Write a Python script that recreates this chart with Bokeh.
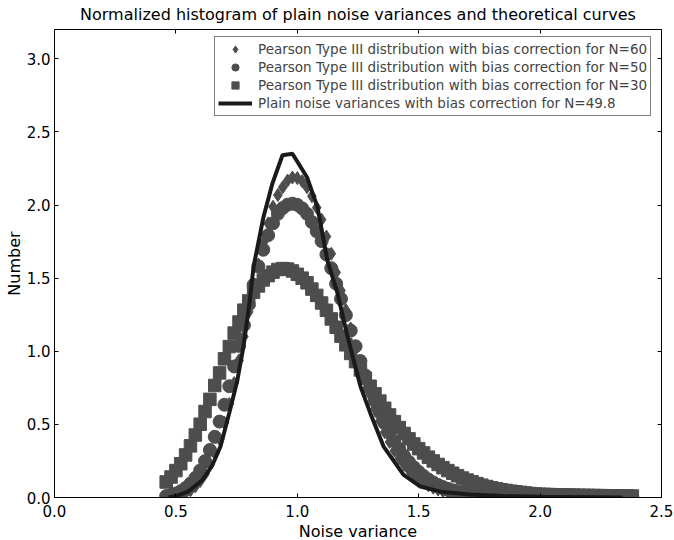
from bokeh.plotting import figure
from bokeh.models import (Range1d, LinearAxis, Legend, LegendItem, CustomJSTickFormatter,
                          NumeralTickFormatter, Title)
from bokeh.embed import file_html
from bokeh.resources import INLINE

x_pts = [0.46, 0.48, 0.50, 0.52, 0.54, 0.56, 0.58, 0.60, 0.62, 0.64, 0.66, 0.68, 0.70, 0.72,
         0.74, 0.76, 0.78, 0.80, 0.82, 0.84, 0.86, 0.88, 0.90, 0.92, 0.94, 0.96, 0.98,
         1.00, 1.02, 1.04, 1.06, 1.08, 1.10, 1.12, 1.14, 1.16, 1.18, 1.20, 1.22, 1.24, 1.26,
         1.28, 1.30, 1.32, 1.34, 1.36, 1.38, 1.40, 1.42, 1.44, 1.46, 1.48, 1.50, 1.52, 1.54,
         1.56, 1.58, 1.60, 1.62, 1.64, 1.66, 1.68, 1.70, 1.72, 1.74, 1.76, 1.78, 1.80, 1.82,
         1.84, 1.86, 1.88, 1.90, 1.92, 1.94, 1.96, 1.98,
         2.00, 2.02, 2.04, 2.06, 2.08, 2.10, 2.12, 2.14, 2.16, 2.18, 2.20, 2.22, 2.24, 2.26,
         2.28, 2.30, 2.32, 2.34, 2.36, 2.38]

n60 = [0.003, 0.006, 0.011, 0.019, 0.031, 0.049, 0.076, 0.112, 0.161, 0.224, 0.302, 0.398,
       0.511, 0.640, 0.783, 0.938, 1.101, 1.269, 1.435, 1.594, 1.742, 1.874, 1.988, 2.068,
       2.121, 2.167, 2.188,
       2.184, 2.163, 2.121, 2.06, 1.982, 1.900, 1.784, 1.667, 1.539, 1.414, 1.281, 1.156,
       1.029, 0.914, 0.803, 0.703, 0.608, 0.524, 0.447, 0.380, 0.320, 0.269, 0.224, 0.187,
       0.154, 0.126, 0.103, 0.083, 0.067, 0.054, 0.043, 0.035, 0.027, 0.021, 0.017, 0.013,
       0.010, 0.008, 0.006, 0.005, 0.004, 0.003, 0.002, 0.002, 0.001, 0.001, 0.001, 0.001,
       0.001, 0.001,
       0.001, 0.001, 0.001, 0.001, 0.001, 0.001, 0.001, 0.001, 0.001, 0.001, 0.001, 0.001,
       0.001, 0.001, 0.001, 0.001, 0.001, 0.001, 0.001, 0.001]

n50 = [0.010, 0.017, 0.027, 0.043, 0.065, 0.095, 0.134, 0.185, 0.249, 0.325, 0.415, 0.519,
       0.634, 0.761, 0.896, 1.037, 1.178, 1.319, 1.454, 1.580, 1.694, 1.793, 1.875, 1.940,
       1.979, 2.002, 2.009,
       2.001, 1.977, 1.940, 1.883, 1.820, 1.753, 1.662, 1.568, 1.462, 1.358, 1.247, 1.141,
       1.034, 0.933, 0.835, 0.745, 0.659, 0.581, 0.508, 0.443, 0.384, 0.331, 0.284, 0.243,
       0.207, 0.175, 0.147, 0.123, 0.103, 0.086, 0.071, 0.059, 0.049, 0.040, 0.033, 0.026,
       0.021, 0.017, 0.014, 0.011, 0.009, 0.007, 0.0055, 0.0044, 0.0035, 0.0027, 0.002,
       0.0016, 0.001, 0.001,
       0.001, 0.001, 0.001, 0.001, 0.001, 0.001, 0.001, 0.001, 0.001, 0.001, 0.001, 0.001,
       0.001, 0.001, 0.001, 0.001, 0.001, 0.001, 0.001, 0.001]

n30 = [0.106, 0.140, 0.184, 0.231, 0.291, 0.353, 0.427, 0.501, 0.588, 0.671, 0.766, 0.852,
       0.948, 1.032, 1.124, 1.200, 1.281, 1.344, 1.404, 1.447, 1.488, 1.517, 1.541, 1.559,
       1.565, 1.562, 1.549,
       1.526, 1.500, 1.468, 1.425, 1.382, 1.330, 1.280, 1.221, 1.164, 1.103, 1.044, 0.985,
       0.929, 0.872, 0.816, 0.761, 0.709, 0.659, 0.610, 0.564, 0.519, 0.478, 0.438, 0.401,
       0.366, 0.334, 0.305, 0.276, 0.250, 0.226, 0.204, 0.184, 0.166, 0.149, 0.133, 0.119,
       0.107, 0.095, 0.084, 0.075, 0.066, 0.060, 0.053, 0.048, 0.043, 0.039, 0.035, 0.031,
       0.027, 0.024,
       0.022, 0.021, 0.020, 0.019, 0.018, 0.017, 0.0165, 0.016, 0.015, 0.0145, 0.014, 0.0135,
       0.013, 0.0125, 0.012, 0.0115, 0.011, 0.011, 0.0105, 0.010]

line_x = [0.47, 0.50, 0.55, 0.61, 0.65, 0.684, 0.72, 0.753, 0.778, 0.803, 0.82, 0.861, 0.898,
          0.939, 0.98, 1.04, 1.083, 1.124, 1.165, 1.207, 1.26, 1.30, 1.355, 1.437, 1.507,
          1.59, 1.71, 1.85, 2.0, 2.34]
line_y = [0.0, 0.01, 0.04, 0.12, 0.22, 0.35, 0.58, 0.80, 1.03, 1.33, 1.58, 1.92, 2.15,
          2.34, 2.35, 2.19, 1.985, 1.62, 1.40, 1.10, 0.76, 0.58, 0.35, 0.157, 0.075,
          0.04, 0.02, 0.01, 0.005, 0.0]

labels = ["Pearson Type III distribution with bias correction for N=60",
          "Pearson Type III distribution with bias correction for N=50",
          "Pearson Type III distribution with bias correction for N=30",
          "Plain noise variances with bias correction for N=49.8"]
x_title = "Noise variance"
y_title = "Number"

FONT = "DejaVu Sans"
MARK = "#4d4d4d"
LINE = "#1a1a1a"

p = figure(width=674, height=540, output_backend="svg", toolbar_location=None,
           x_range=Range1d(0, 2.5), y_range=Range1d(0, 3.2),
           min_border_left=54, min_border_right=13, min_border_top=28, min_border_bottom=42,
           title="Normalized histogram of plain noise variances and theoretical curves")
p.title.align = "center"
p.title.text_font = FONT
p.title.text_font_size = "16px"
p.title.text_font_style = "normal"
p.title.text_color = "black"
p.title.standoff = 4

p.xgrid.visible = False
p.ygrid.visible = False
p.outline_line_color = "black"
p.outline_line_width = 1

for ax in (p.xaxis[0], p.yaxis[0]):
    ax.formatter = NumeralTickFormatter(format="0.0")
    ax.major_tick_in = 4
    ax.major_tick_out = 0
    ax.minor_tick_line_color = None
    ax.axis_line_color = "black"
    ax.major_label_text_font = FONT
    ax.major_label_text_font_size = "15px"
    ax.major_label_text_color = "black"
    ax.axis_label_text_font = FONT
    ax.axis_label_text_font_size = "16px"
    ax.axis_label_text_font_style = "normal"
    ax.axis_label_text_color = "black"
p.xaxis[0].major_label_standoff = 3
p.yaxis[0].major_label_standoff = 0
p.yaxis[0].axis_label_standoff = 0
p.yaxis[0].axis_label = y_title

p.add_layout(Title(text=x_title, align="center", text_font=FONT, text_font_size="16px",
                   text_font_style="normal", text_color="black", standoff=0), "below")

for side in ("above", "right"):
    ax2 = LinearAxis(major_tick_in=4, major_tick_out=0, minor_tick_line_color=None,
                     axis_line_color=None, major_label_text_font_size="1px",
                     formatter=CustomJSTickFormatter(code="return ''"),
                     major_label_standoff=0)
    p.add_layout(ax2, side)

r60 = p.scatter(x_pts, n60, marker="diamond", size=13, fill_color=MARK, line_color=MARK)
r50 = p.scatter(x_pts, n50, marker="circle", size=13, fill_color=MARK, line_color=MARK)
r30 = p.scatter(x_pts, n30, marker="square", size=12.5, fill_color=MARK, line_color=MARK)
rl = p.line(line_x, line_y, line_color=LINE, line_width=4)

legend = Legend(items=[LegendItem(label=labels[0], renderers=[r60]),
                       LegendItem(label=labels[1], renderers=[r50]),
                       LegendItem(label=labels[2], renderers=[r30]),
                       LegendItem(label=labels[3], renderers=[rl])],
                location=(160, 381), margin=0, padding=3, spacing=0,
                label_height=18, glyph_height=18, glyph_width=34, label_standoff=6,
                label_text_font=FONT, label_text_font_size="13.5px",
                border_line_color="black", border_line_width=1,
                background_fill_color="white", background_fill_alpha=1)
p.add_layout(legend)

open("out.html", "w").write(file_html(p, INLINE))
